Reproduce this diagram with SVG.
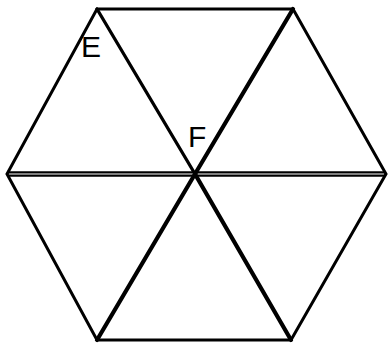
<svg xmlns="http://www.w3.org/2000/svg" width="388" height="343" viewBox="0 0 388 343">
<style>
.e{stroke:#000;stroke-width:3;fill:none;stroke-linejoin:miter;stroke-linecap:round}
.d{stroke:#000;stroke-width:4.2;stroke-linecap:round}
.h{stroke:#000;stroke-width:2.2}
.t{font-family:"Liberation Sans",Arial,sans-serif;font-size:30px;fill:#000}
</style>
<rect width="388" height="343" fill="#fff"/>
<g id="connectors">
<polygon class="e" points="97,9 293,9 386,174 291,340 97,340 7,174"/>
<line class="d" x1="97" y1="9" x2="195" y2="174" style="stroke-width:3.3"/>
<line class="d" x1="293" y1="9" x2="195" y2="174"/>
<line class="d" x1="97" y1="340" x2="195" y2="174"/>
<line class="d" x1="291" y1="340" x2="195" y2="174"/>
<line class="h" x1="7" y1="172.3" x2="386" y2="172.3"/>
<line class="h" x1="7" y1="175.7" x2="386" y2="175.7"/>
</g>
<g id="E"><text class="t" x="81" y="57">E</text></g>
<g id="F"><text class="t" x="188" y="147">F</text></g>
</svg>
